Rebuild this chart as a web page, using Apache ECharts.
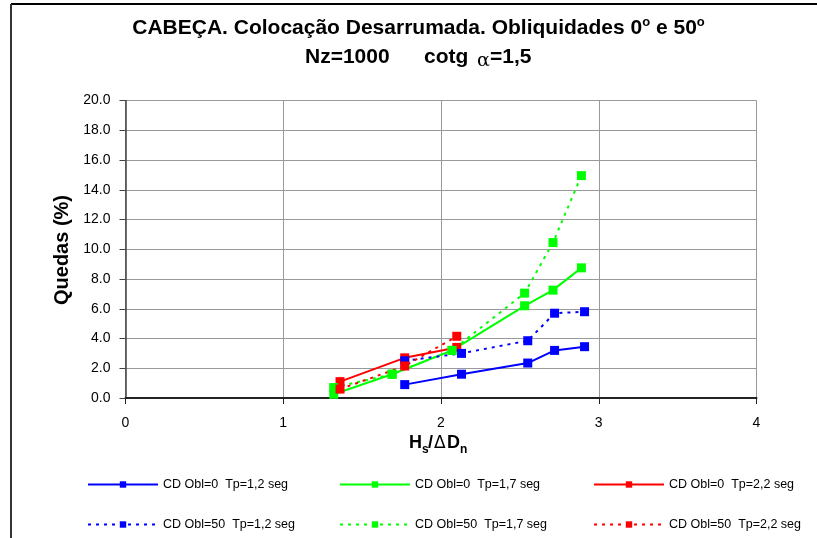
<!DOCTYPE html>
<html>
<head>
<meta charset="utf-8">
<script src="https://cdn.jsdelivr.net/npm/echarts@6/dist/echarts.min.js"></script>
<style>html,body{margin:0;padding:0;background:#fff}#c{width:817px;height:538px}</style>
</head>
<body>
<div id="c"></div>
<script>
// ---- data ----
const xTicks = [0, 1, 2, 3, 4];
const yTicks = [0, 2, 4, 6, 8, 10, 12, 14, 16, 18, 20];

const seriesNames = [
  'CD Obl=0  Tp=1,2 seg', 'CD Obl=0  Tp=1,7 seg', 'CD Obl=0  Tp=2,2 seg',
  'CD Obl=50  Tp=1,2 seg', 'CD Obl=50  Tp=1,7 seg', 'CD Obl=50  Tp=2,2 seg'
];

const obl0_tp12_x = [1.77, 2.13, 2.55, 2.72, 2.91];
const obl0_tp12_y = [0.9, 1.6, 2.35, 3.2, 3.45];
const obl0_tp17_x = [1.32, 1.69, 2.07, 2.53, 2.71, 2.89];
const obl0_tp17_y = [0.25, 1.6, 3.2, 6.2, 7.25, 8.75];
const obl0_tp22_x = [1.36, 1.77, 2.10];
const obl0_tp22_y = [1.1, 2.7, 3.4];

const obl50_tp12_x = [1.77, 2.13, 2.55, 2.72, 2.91];
const obl50_tp12_y = [2.5, 3.0, 3.85, 5.7, 5.8];
const obl50_tp17_x = [1.32, 1.69, 2.07, 2.53, 2.71, 2.89];
const obl50_tp17_y = [0.7, 1.6, 3.2, 7.05, 10.45, 14.95];
const obl50_tp22_x = [1.36, 1.77, 2.10];
const obl50_tp22_y = [0.6, 2.15, 4.15];

// ---- build ----
function pts(xs, ys) { return xs.map((x, i) => [x, ys[i]]); }
const xsList = [obl0_tp12_x, obl0_tp17_x, obl0_tp22_x, obl50_tp12_x, obl50_tp17_x, obl50_tp22_x];
const ysList = [obl0_tp12_y, obl0_tp17_y, obl0_tp22_y, obl50_tp12_y, obl50_tp17_y, obl50_tp22_y];
const colors = ['#0000FF', '#00FF00', '#FF0000', '#0000FF', '#00FF00', '#FF0000'];
const dotted = [false, false, false, true, true, true];

const series = seriesNames.map((n, i) => ({
  name: n,
  type: 'line',
  data: pts(xsList[i], ysList[i]),
  symbol: 'rect',
  symbolSize: 9,
  color: colors[i],
  itemStyle: { color: colors[i] },
  lineStyle: { color: colors[i], width: 2, type: dotted[i] ? [3, 5] : 'solid' },
  animation: false
}));

const legendPos = [
  { left: 87, top: 478 }, { left: 339, top: 478 }, { left: 593, top: 478 },
  { left: 87, top: 518 }, { left: 339, top: 518 }, { left: 593, top: 518 }
];
const legends = seriesNames.map((n, i) => ({
  data: [n],
  left: legendPos[i].left,
  top: legendPos[i].top,
  itemWidth: 70,
  itemHeight: 8,
  padding: 0,
  textStyle: { fontFamily: 'Liberation Sans, Arial', fontSize: 12.5, color: '#000' },
  selectedMode: false
}));

const FONT = '"Liberation Sans", Arial';
const chart = echarts.init(document.getElementById('c'), null, { renderer: 'canvas' });
chart.setOption({
  backgroundColor: '#fff',
  animation: false,
  grid: { left: 125.5, right: 60.5, top: 100.5, bottom: 140, containLabel: false },
  xAxis: {
    type: 'value', min: xTicks[0], max: xTicks[xTicks.length - 1], interval: 1,
    axisLine: { show: true, lineStyle: { color: '#222', width: 2 } },
    axisTick: { show: true, length: 6, inside: false, lineStyle: { color: '#222' } },
    axisLabel: { margin: 18, color: '#000', fontSize: 14, fontFamily: 'Liberation Sans, Arial' },
    splitLine: { show: true, lineStyle: { color: '#999', width: 1 } }
  },
  yAxis: {
    type: 'value', min: yTicks[0], max: yTicks[yTicks.length - 1], interval: 2,
    axisLine: { show: true, lineStyle: { color: '#444', width: 1.5 } },
    axisTick: { show: true, length: 6, inside: false, lineStyle: { color: '#444' } },
    axisLabel: { margin: 15, color: '#000', fontSize: 14, fontFamily: 'Liberation Sans, Arial',
      formatter: v => v.toFixed(1) },
    splitLine: { show: true, lineStyle: { color: '#999', width: 1 } }
  },
  legend: legends,
  series: series,
  graphic: [
    { type: 'line', shape: { x1: 11, y1: 4, x2: 817, y2: 4 }, style: { stroke: '#000', lineWidth: 2 } },
    { type: 'line', shape: { x1: 11, y1: 4, x2: 11, y2: 538 }, style: { stroke: '#333', lineWidth: 2 } },
    { type: 'text', x: 418.5, y: 28, style: {
        text: 'CABEÇA. Colocação Desarrumada. Obliquidades 0{s|o} e 50{s|o}',
        font: 'bold 21px ' + FONT, fill: '#000', align: 'center', verticalAlign: 'middle',
        rich: { s: { fontSize: 13, fontWeight: 'bold', fontFamily: 'Liberation Sans', padding: [0, 0, 11, 0] } }
      } },
    { type: 'text', x: 305, y: 57, style: {
        text: 'Nz=1000', font: 'bold 21px ' + FONT, fill: '#000', verticalAlign: 'middle'
      } },
    { type: 'text', x: 424, y: 57, style: {
        text: 'cotg', font: 'bold 21px ' + FONT, fill: '#000', verticalAlign: 'middle'
      } },
    { type: 'text', x: 477, y: 61, style: {
        text: 'α', font: '19px "DejaVu Serif"', fill: '#000', verticalAlign: 'middle'
      } },
    { type: 'text', x: 490, y: 57, style: {
        text: '=1,5', font: 'bold 21px ' + FONT, fill: '#000', verticalAlign: 'middle'
      } },
    { type: 'text', x: 62, y: 250, rotation: Math.PI / 2, style: {
        text: 'Quedas (%)', font: 'bold 20px ' + FONT, fill: '#000',
        align: 'center', verticalAlign: 'middle'
      } },
    { type: 'text', x: 409, y: 443, style: { text: 'H', font: 'bold 18px ' + FONT, fill: '#000', verticalAlign: 'middle' } },
    { type: 'text', x: 422, y: 450, style: { text: 's', font: 'bold 12px ' + FONT, fill: '#000', verticalAlign: 'middle' } },
    { type: 'text', x: 428, y: 443, style: { text: '/', font: 'bold 18px ' + FONT, fill: '#000', verticalAlign: 'middle' } },
    { type: 'text', x: 434, y: 444, style: { text: 'Δ', font: '17px "DejaVu Sans"', fill: '#000', verticalAlign: 'middle' } },
    { type: 'text', x: 447, y: 443, style: { text: 'D', font: 'bold 18px ' + FONT, fill: '#000', verticalAlign: 'middle' } },
    { type: 'text', x: 460, y: 450, style: { text: 'n', font: 'bold 12px ' + FONT, fill: '#000', verticalAlign: 'middle' } }
  ]
});
</script>
</body>
</html>
